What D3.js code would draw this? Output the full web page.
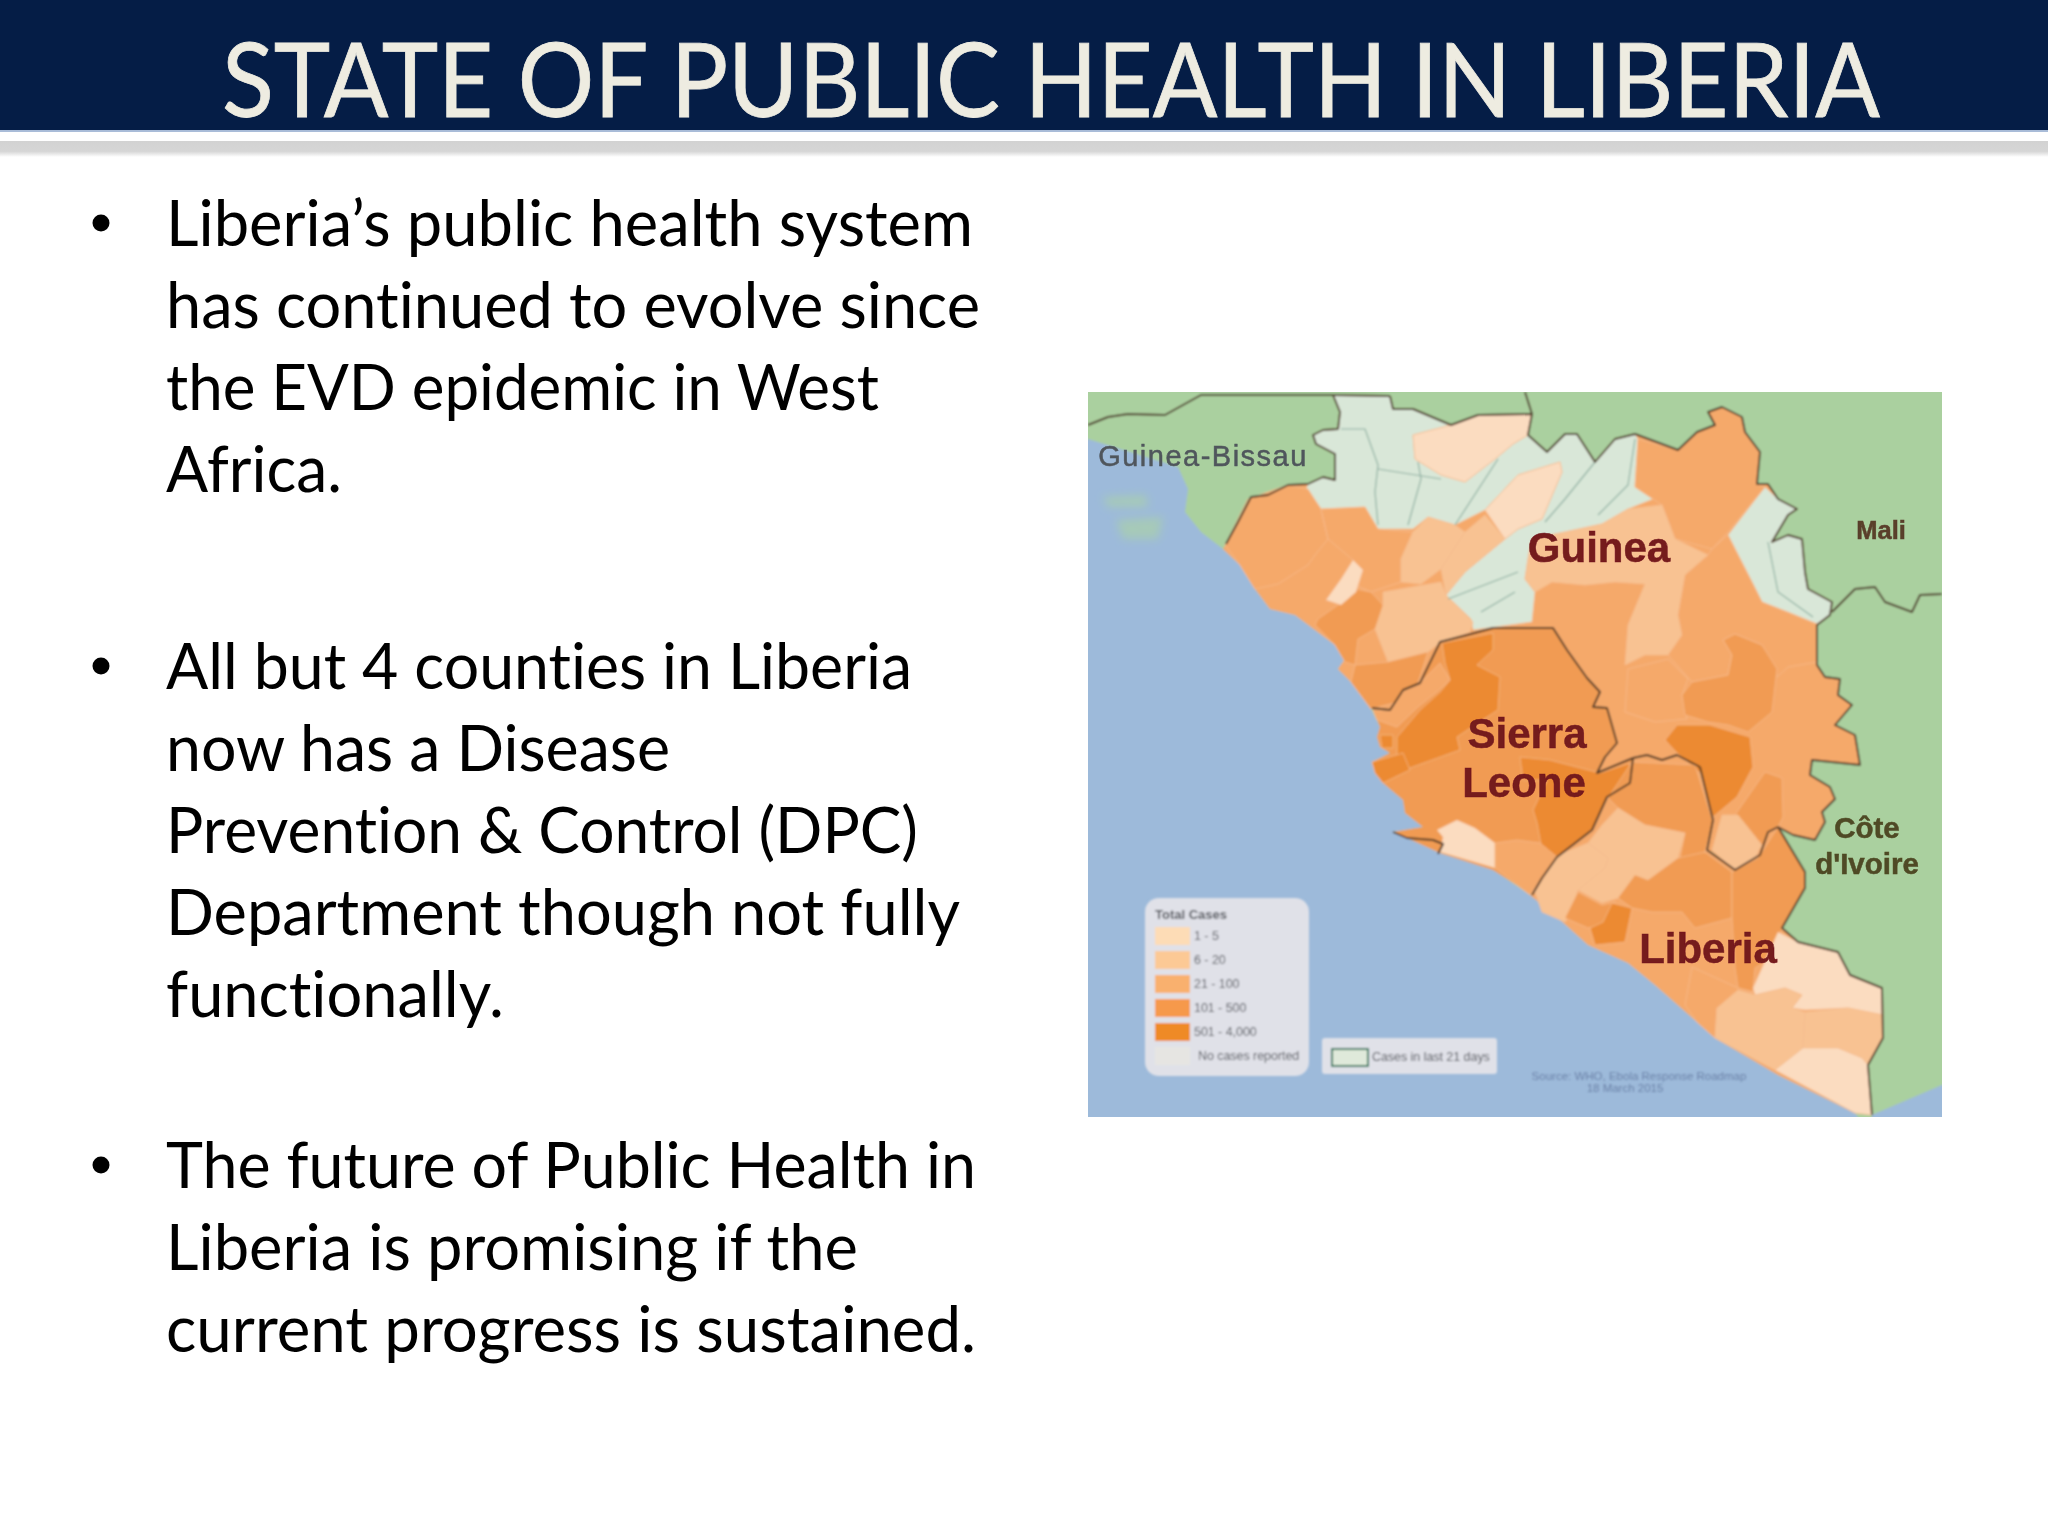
<!DOCTYPE html>
<html>
<head>
<meta charset="utf-8">
<script src="https://cdnjs.cloudflare.com/ajax/libs/d3/7.8.5/d3.min.js"></script>
<style>
html, body { margin: 0; padding: 0; background: #fff; }
svg { display: block; }
text { font-variant-ligatures: none; }
</style>
</head>
<body>
<svg id="slide"></svg>
<script>
var titleText = "STATE OF PUBLIC HEALTH IN LIBERIA";
var bulletBlocks = [
  ["Liberia\u2019s public health system", "has continued to evolve since", "the EVD epidemic in West", "Africa."],
  ["All but 4 counties in Liberia", "now has a Disease", "Prevention & Control (DPC)", "Department though not fully", "functionally."],
  ["The future of Public Health in", "Liberia is promising if the", "current progress is sustained."]
];
// how wide each line runs on the slide
var bulletWidths = [
  [807, 814, 713, 176],
  [746, 504, 752, 794, 338],
  [810, 692, 810]
];

// legend
var caseClasses = ["1 - 5", "6 - 20", "21 - 100", "101 - 500", "501 - 4,000", "No cases reported"];
var caseColors = ["#fbdcc0", "#f8c292", "#f5a96a", "#f19b52", "#ec8a30", "#d9e7d8"];
var legendColors = ["#fddcb6", "#fcc995", "#f9b06e", "#f6994b", "#ef8a27", "#e6e5e2"];

// map shapes, traced in the map's own grid (854 x 725)
var seaOutline = [[-20,50],[0,47],[90,75],[100,97],[97,120],[113,140],[135,157],[152,173],[167,197],[182,217],[207,223],[223,235],[247,253],[257,267],[250,277],[263,290],[283,317],[292,335],[289,345],[292,355],[302,361],[284,370],[295,391],[315,408],[317,421],[335,435],[305,440],[319,446],[352,461],[405,478],[442,503],[469,525],[500,553],[540,571],[567,593],[609,630],[627,646],[690,683],[767,721],[784,745],[-20,745]];
var seaCorner = [[784,745],[784,723],[854,693],[880,690],[880,745]];
var islandShapes = [
  [[15,105],[58,103],[60,115],[20,115]],
  [[28,128],[75,125],[70,147],[35,147]]
];
var guineaOutline = [[138,152],[150,130],[163,105],[180,103],[200,93],[220,92],[235,85],[247,88],[247,62],[228,52],[225,43],[235,38],[250,37],[252,20],[245,3],[302,4],[305,17],[325,17],[363,33],[390,23],[444,22],[440,43],[459,60],[477,42],[489,42],[507,70],[527,47],[547,42],[590,58],[609,40],[627,33],[620,20],[634,15],[654,25],[657,40],[672,60],[669,92],[680,92],[690,107],[709,117],[700,123],[684,150],[700,143],[714,147],[717,180],[720,197],[744,210],[742,223],[729,233],[729,273],[737,285],[752,287],[750,303],[764,313],[747,333],[767,343],[772,373],[724,368],[722,383],[742,395],[747,407],[734,420],[737,430],[727,448],[705,443],[690,435],[680,440],[672,463],[647,478],[624,460],[619,458],[625,428],[612,375],[589,363],[574,368],[559,363],[545,366],[509,381],[517,365],[529,351],[519,316],[505,315],[512,300],[499,286],[479,258],[465,236],[405,236],[379,243],[352,250],[332,291],[315,298],[302,318],[284,316],[283,317],[263,290],[250,277],[257,267],[247,253],[223,235],[207,223],[182,217],[167,197],[152,173],[135,157]];
var sierraOutline = [[284,316],[302,318],[315,298],[332,291],[352,250],[379,243],[405,236],[465,236],[479,258],[499,286],[512,300],[505,315],[519,316],[529,351],[517,365],[509,381],[545,366],[542,391],[519,405],[504,438],[469,465],[454,486],[444,503],[405,478],[352,461],[319,446],[305,440],[335,435],[317,421],[315,408],[295,391],[284,370],[302,361],[292,355],[289,345],[292,335]];
var liberiaOutline = [[444,503],[454,486],[469,465],[504,438],[519,405],[542,391],[545,366],[559,363],[574,368],[589,363],[612,375],[625,428],[619,458],[647,478],[672,463],[680,440],[690,435],[717,480],[717,496],[694,536],[710,550],[750,560],[762,583],[794,596],[795,646],[780,673],[784,723],[767,721],[690,683],[627,646],[609,630],[567,593],[540,571],[500,553],[469,525],[442,503]];

var regionShapes = [
  // Guinea, north
  {cls: 5, pts: [[247,62],[228,52],[225,43],[235,38],[250,37],[252,20],[245,3],[302,4],[305,17],[325,17],[363,33],[325,43],[327,67],[353,83],[377,90],[407,67],[425,52],[440,43],[459,60],[477,42],[489,42],[507,70],[527,47],[547,42],[550,47],[547,95],[565,107],[540,117],[514,132],[477,140],[444,147],[440,167],[437,187],[447,200],[444,230],[407,235],[385,238],[383,227],[358,203],[377,180],[417,147],[430,137],[454,127],[474,80],[472,70],[430,83],[397,118],[367,133],[340,125],[325,137],[290,137],[277,115],[233,117],[218,97],[220,92],[235,85],[247,88]]},
  {cls: 0, pts: [[325,43],[363,33],[390,23],[444,22],[440,43],[425,52],[407,67],[377,90],[353,83],[327,67]]},
  {cls: 0, pts: [[397,118],[430,83],[472,70],[474,80],[454,127],[430,137],[417,147]]},
  {cls: 5, pts: [[677,95],[690,107],[709,117],[700,123],[684,150],[700,143],[714,147],[717,180],[720,197],[744,210],[742,223],[729,232],[700,220],[674,210],[664,190],[640,143]]},
  {cls: 2, pts: [[550,47],[590,58],[609,40],[627,33],[620,20],[634,15],[654,25],[657,40],[672,60],[669,92],[677,95],[640,140],[624,157],[587,147],[574,113],[547,95]]},
  {cls: 1, pts: [[574,113],[587,147],[620,163],[597,183],[590,223],[594,243],[580,263],[557,263],[537,273],[540,233],[557,192],[527,190],[497,193],[464,190],[447,200],[437,187],[440,167],[444,147],[477,140],[514,132],[540,117]]},
  {cls: 2, pts: [[597,183],[620,163],[624,157],[640,143],[664,190],[674,210],[729,232],[729,270],[700,275],[689,285],[674,253],[647,242],[635,248],[644,263],[640,283],[604,290],[580,263],[594,243],[590,223]]},
  {cls: 2, pts: [[540,277],[580,267],[600,287],[594,303],[599,327],[567,330],[537,320]]},
  {cls: 3, pts: [[635,248],[647,242],[674,253],[689,277],[684,320],[660,340],[640,333],[620,330],[597,323],[594,303],[604,290],[640,283],[644,263]]},
  {cls: 4, pts: [[577,348],[589,333],[622,333],[662,345],[665,375],[649,405],[625,425],[612,381],[589,361]]},
  {cls: 3, pts: [[647,423],[677,380],[694,386],[695,425],[690,435],[680,440],[672,463]]},
  {cls: 1, pts: [[624,458],[634,423],[650,423],[674,453],[667,466],[647,478]]},
  // Guinea, west
  {cls: 2, pts: [[160,107],[200,93],[220,97],[233,117],[240,147],[227,163],[220,173],[190,192],[167,197],[152,173],[137,153]]},
  {cls: 2, pts: [[233,117],[277,115],[290,137],[325,140],[313,167],[313,190],[283,200],[267,193],[275,178],[265,168],[240,147]]},
  {cls: 1, pts: [[325,140],[340,125],[367,133],[377,140],[353,177],[333,192],[313,190],[313,167]]},
  {cls: 1, pts: [[377,140],[397,123],[417,147],[377,180],[358,203],[353,177]]},
  {cls: 1, pts: [[295,200],[353,190],[358,203],[385,230],[382,240],[353,250],[340,260],[300,270],[287,237],[295,213]]},
  {cls: 3, pts: [[230,227],[250,213],[268,197],[283,200],[295,213],[287,237],[270,247],[267,273],[257,270],[247,253],[227,233]]},
  {cls: 0, pts: [[238,208],[253,187],[265,168],[275,178],[268,200],[253,213]]},
  {cls: 3, pts: [[267,273],[300,270],[340,260],[328,297],[310,310],[283,317],[263,290]]},
  // Sierra Leone
  {cls: 4, pts: [[354,251],[405,241],[405,258],[389,273],[412,285],[410,318],[369,345],[372,358],[322,376],[309,375],[309,345],[332,318],[352,300],[362,288],[357,271]]},
  {cls: 2, pts: [[352,271],[362,288],[349,300],[329,316],[309,335],[289,328],[285,318],[302,318],[315,298],[332,291]]},
  {cls: 4, pts: [[284,370],[315,361],[322,378],[295,391],[287,381]]},
  {cls: 4, pts: [[292,343],[305,343],[305,356],[294,356]]},
  {cls: 4, pts: [[512,381],[542,371],[539,391],[519,405],[504,438],[469,465],[454,458],[449,431],[445,418],[459,388],[435,388],[432,365],[462,368]]},
  {cls: 0, pts: [[349,438],[369,428],[387,436],[407,451],[407,476],[352,460],[355,445]]},
  {cls: 2, pts: [[407,451],[429,448],[452,451],[469,465],[454,486],[442,503],[407,476]]},
  // Liberia
  {cls: 3, pts: [[544,370],[607,373],[625,430],[617,460],[590,476],[597,441],[557,433],[530,416],[520,406]]},
  {cls: 1, pts: [[530,416],[557,433],[597,441],[590,466],[560,488],[547,483],[530,506],[514,511],[490,498],[517,476],[520,466],[500,451],[514,433]]},
  {cls: 1, pts: [[447,500],[470,463],[500,451],[520,466],[517,476],[490,498],[480,526],[477,530],[454,520]]},
  {cls: 3, pts: [[490,500],[514,513],[527,510],[517,533],[500,536],[477,526]]},
  {cls: 3, pts: [[530,506],[547,483],[560,488],[590,466],[617,460],[644,480],[644,526],[607,536],[594,520],[564,520],[544,516]]},
  {cls: 4, pts: [[524,511],[544,516],[537,550],[507,553],[502,536],[515,530]]},
  {cls: 3, pts: [[644,480],[670,466],[690,435],[717,480],[717,496],[694,536],[687,563],[667,576],[665,600],[650,596],[647,576],[644,526]]},
  {cls: 2, pts: [[604,575],[650,596],[665,600],[629,616],[627,646],[609,630],[597,613]]},
  {cls: 0, pts: [[665,596],[690,540],[710,550],[750,560],[762,583],[794,596],[795,623],[760,616],[717,618],[704,616],[714,603],[697,596],[667,603]]},
  {cls: 1, pts: [[629,616],[650,598],[667,603],[697,596],[714,603],[704,616],[717,620],[715,656],[687,678],[627,646]]},
  {cls: 1, pts: [[717,620],[760,616],[795,623],[794,646],[780,673],[774,666],[750,656],[730,656],[715,656]]},
  {cls: 0, pts: [[687,678],[715,656],[730,656],[750,656],[774,666],[780,673],[784,723],[767,721]]}
];

var borderLines = [
  [[0,33],[20,25],[40,22],[77,23],[113,3],[245,3],[302,4]],
  [[245,3],[252,20],[250,37],[235,38],[225,43],[228,52],[247,62],[247,88],[235,85],[220,92],[200,93],[180,103],[163,105],[150,130],[138,152]],
  [[302,4],[305,17],[325,17],[363,33],[390,23],[444,22],[440,43],[459,60],[477,42],[489,42],[507,70],[527,47],[547,42],[590,58],[609,40],[627,33],[620,20],[634,15],[654,25],[657,40],[672,60],[669,92],[680,92],[690,107],[709,117],[700,123],[684,150],[700,143],[714,147],[717,180],[720,197],[744,210],[742,223],[729,233],[729,273],[737,285],[752,287],[750,303],[764,313],[747,333],[767,343],[772,373],[724,368],[722,383],[742,395],[747,407],[734,420],[737,430],[727,448],[705,443],[690,435]],
  [[444,22],[437,0]],
  [[744,220],[767,197],[787,195],[797,210],[824,220],[832,203],[854,202]],
  [[284,316],[302,318],[315,298],[332,291],[352,250],[379,243],[405,236],[465,236],[479,258],[499,286],[512,300],[505,315],[519,316],[529,351],[517,365],[509,381],[545,366]],
  [[690,435],[680,440],[672,463],[647,478],[619,458],[625,428],[612,375],[589,363],[574,368],[559,363],[545,366]],
  [[545,366],[542,391],[519,405],[504,438],[469,465],[454,486],[444,503]],
  [[690,435],[717,480],[717,496],[694,536],[710,550],[750,560],[762,583],[794,596],[795,646],[780,673],[784,723]],
  [[305,440],[319,446],[345,448],[355,452],[350,462]]
];
var riverLines = [
  [[253,37],[277,37],[290,73],[287,100],[290,133]],
  [[330,70],[333,87],[320,133]],
  [[367,133],[410,67]],
  [[290,77],[353,87]],
  [[507,70],[477,107],[457,130]],
  [[547,47],[540,93],[510,123]],
  [[360,207],[430,180]],
  [[427,200],[393,220]],
  [[680,150],[690,200],[725,225]]
];

var mapLabels = [
  {text: "Guinea-Bissau", x: 115, y: 74, size: 29, track: 1.5, color: "#50565c", weight: "normal"},
  {text: "Guinea", x: 511, y: 170, size: 42, track: 0, color: "#741a1e", weight: "bold"},
  {text: "Sierra", x: 439, y: 356, size: 42, track: 0, color: "#741a1e", weight: "bold"},
  {text: "Leone", x: 436, y: 405, size: 42, track: 0, color: "#741a1e", weight: "bold"},
  {text: "Liberia", x: 620, y: 571, size: 42, track: 0, color: "#741a1e", weight: "bold"},
  {text: "Mali", x: 793, y: 147, size: 25.5, track: 0, color: "#5a3f2c", weight: "bold"},
  {text: "C\u00f4te", x: 779, y: 446, size: 29.5, track: 0, color: "#4f4a25", weight: "bold"},
  {text: "d'Ivoire", x: 779, y: 482, size: 29.5, track: 0, color: "#4f4a25", weight: "bold"}
];
var sourceLines = ["Source:  WHO, Ebola Response Roadmap", "18 March 2015"];

var screen = {width: 2048, height: 1536};

var svg = d3.select("#slide")
  .attr("width", screen.width)
  .attr("height", screen.height)
  .attr("viewBox", "0 0 " + screen.width + " " + screen.height);

var defs = svg.append("defs");
var band = defs.append("linearGradient").attr("id", "band").attr("x1", 0).attr("x2", 0).attr("y1", 0).attr("y2", 1);
band.append("stop").attr("offset", "0%").attr("stop-color", "#d2d2d2");
band.append("stop").attr("offset", "65%").attr("stop-color", "#d6d6d6");
band.append("stop").attr("offset", "100%").attr("stop-color", "#ffffff");
defs.append("filter").attr("id", "soft").attr("x", "-3%").attr("y", "-3%").attr("width", "106%").attr("height", "106%")
  .append("feGaussianBlur").attr("stdDeviation", 1.0);
defs.append("filter").attr("id", "softText")
  .append("feGaussianBlur").attr("stdDeviation", 0.7);
defs.append("filter").attr("id", "softSmall")
  .append("feGaussianBlur").attr("stdDeviation", 0.9);
defs.append("filter").attr("id", "softIsland").attr("x", "-30%").attr("y", "-30%").attr("width", "160%").attr("height", "160%")
  .append("feGaussianBlur").attr("stdDeviation", 4);

// header
svg.append("rect").attr("width", screen.width).attr("height", screen.height).attr("fill", "#fff");
svg.append("rect").attr("width", screen.width).attr("height", 130).attr("fill", "#051d46");
svg.append("rect").attr("y", 130).attr("width", screen.width).attr("height", 2).attr("fill", "#a9bcd8");
svg.append("rect").attr("y", 141).attr("width", screen.width).attr("height", 16).attr("fill", "url(#band)");

svg.append("text")
  .attr("x", 222).attr("y", 117)
  .attr("font-family", "Lato")
  .attr("font-size", 102)
  .attr("fill", "#eeece1")
  .attr("stroke", "#eeece1")
  .attr("stroke-width", 0.8)
  .attr("textLength", 1658)
  .attr("lengthAdjust", "spacingAndGlyphs")
  .text(titleText);

// bullets
var blockTops = [246, 689, 1188];
var body = svg.append("g").attr("font-family", "Lato").attr("font-size", 63).attr("fill", "#000");
bulletBlocks.forEach(function (lines, b) {
  body.append("circle").attr("cx", 101).attr("cy", blockTops[b] - 23).attr("r", 8.5);
  body.selectAll(null).data(lines).enter().append("text")
    .attr("x", 166)
    .attr("y", function (d, i) { return blockTops[b] + i * 82; })
    .attr("textLength", function (d, i) { return bulletWidths[b][i]; })
    .attr("lengthAdjust", "spacingAndGlyphs")
    .text(function (d) { return d; });
});

// map
var xMap = d3.scaleLinear().domain([0, 854]).range([1088, 1942]);
var yMap = d3.scaleLinear().domain([0, 725]).range([392, 1117]);
var line = d3.line().x(function (d) { return xMap(d[0]); }).y(function (d) { return yMap(d[1]); });
var closedPath = function (pts) { return line(pts) + "Z"; };
var classColor = d3.scaleOrdinal().domain(d3.range(caseColors.length)).range(caseColors);

defs.append("clipPath").attr("id", "mapClip").append("rect")
  .attr("x", xMap(0)).attr("y", yMap(0)).attr("width", xMap(854) - xMap(0)).attr("height", yMap(725) - yMap(0));

var map = svg.append("g").attr("clip-path", "url(#mapClip)");
var art = map.append("g").attr("filter", "url(#soft)");

art.append("rect")
  .attr("x", xMap(-20)).attr("y", yMap(-20)).attr("width", xMap(874) - xMap(-20)).attr("height", yMap(745) - yMap(-20))
  .attr("fill", "#aad09f");
art.append("path").attr("d", closedPath(seaOutline)).attr("fill", "#9dbada");
art.append("path").attr("d", closedPath(seaCorner)).attr("fill", "#9dbada");
art.append("g").attr("filter", "url(#softIsland)").selectAll("path.island").data(islandShapes).enter().append("path")
  .attr("class", "island")
  .attr("d", closedPath)
  .attr("fill", "#a9cfae")
  .attr("opacity", 0.75);
art.append("path").attr("d", closedPath(guineaOutline)).attr("fill", classColor(2));
art.append("path").attr("d", closedPath(sierraOutline)).attr("fill", classColor(3));
art.append("path").attr("d", closedPath(liberiaOutline)).attr("fill", classColor(2));

art.selectAll("path.region").data(regionShapes).enter().append("path")
  .attr("class", "region")
  .attr("d", function (d) { return closedPath(d.pts); })
  .attr("fill", function (d) { return classColor(d.cls); })
  .attr("stroke", "#f7bd90")
  .attr("stroke-width", 0.7);

art.selectAll("path.river").data(riverLines).enter().append("path")
  .attr("class", "river")
  .attr("d", line)
  .attr("fill", "none")
  .attr("stroke", "#8fb0a2")
  .attr("stroke-width", 1.2);

art.selectAll("path.border").data(borderLines).enter().append("path")
  .attr("class", "border")
  .attr("d", line)
  .attr("fill", "none")
  .attr("stroke", "#4e3828")
  .attr("stroke-width", 1.9)
  .attr("stroke-linejoin", "round");

var labels = map.append("g").attr("filter", "url(#softText)");
labels.selectAll("text").data(mapLabels).enter().append("text")
  .attr("x", function (d) { return xMap(d.x); })
  .attr("y", function (d) { return yMap(d.y); })
  .attr("text-anchor", "middle")
  .attr("font-family", "Liberation Sans")
  .attr("font-size", function (d) { return d.size; })
  .attr("font-weight", function (d) { return d.weight; })
  .attr("letter-spacing", function (d) { return d.track; })
  .attr("fill", function (d) { return d.color; })
  .attr("stroke", function (d) { return d.color; })
  .attr("stroke-width", 0.5)
  .text(function (d) { return d.text; });

// legend
var legend = map.append("g").attr("filter", "url(#softSmall)").attr("font-family", "Liberation Sans").attr("fill", "#50535a");
legend.append("rect").attr("x", xMap(57)).attr("y", yMap(506)).attr("width", 164).attr("height", 178).attr("rx", 14).attr("fill", "#e0e1e8");
legend.append("text").attr("x", xMap(67)).attr("y", yMap(527)).attr("font-size", 13).attr("font-weight", "bold").text("Total Cases");
var yLegend = d3.scalePoint().domain(caseClasses).range([yMap(544), yMap(664)]);
legend.selectAll("rect.swatch").data(caseClasses).enter().append("rect")
  .attr("class", "swatch")
  .attr("x", xMap(67)).attr("width", 35).attr("height", 18)
  .attr("y", function (d) { return yLegend(d) - 9; })
  .attr("fill", function (d, i) { return legendColors[i]; });
legend.selectAll("text.item").data(caseClasses).enter().append("text")
  .attr("class", "item")
  .attr("x", function (d, i) { return i == 5 ? xMap(110) : xMap(106); })
  .attr("y", function (d) { return yLegend(d) + 4; })
  .attr("font-size", 12.4)
  .text(function (d) { return d; });

legend.append("rect").attr("x", xMap(234)).attr("y", yMap(646)).attr("width", 175).attr("height", 36).attr("rx", 3).attr("fill", "#e0e1e8");
legend.append("rect").attr("x", xMap(244)).attr("y", yMap(657)).attr("width", 36).attr("height", 17)
  .attr("fill", "#dfe9da").attr("stroke", "#24785a").attr("stroke-width", 2);
legend.append("text").attr("x", xMap(284)).attr("y", yMap(669)).attr("font-size", 12.4).text("Cases in last 21 days");

map.append("g").attr("filter", "url(#softSmall)").selectAll("text").data(sourceLines).enter().append("text")
  .attr("x", function (d, i) { return i == 0 ? xMap(551) : xMap(537); })
  .attr("y", function (d, i) { return yMap(688 + i * 12); })
  .attr("text-anchor", "middle")
  .attr("font-family", "Liberation Sans")
  .attr("font-size", 11.5)
  .attr("fill", "#6b82a8")
  .text(function (d) { return d; });
</script>
</body>
</html>
